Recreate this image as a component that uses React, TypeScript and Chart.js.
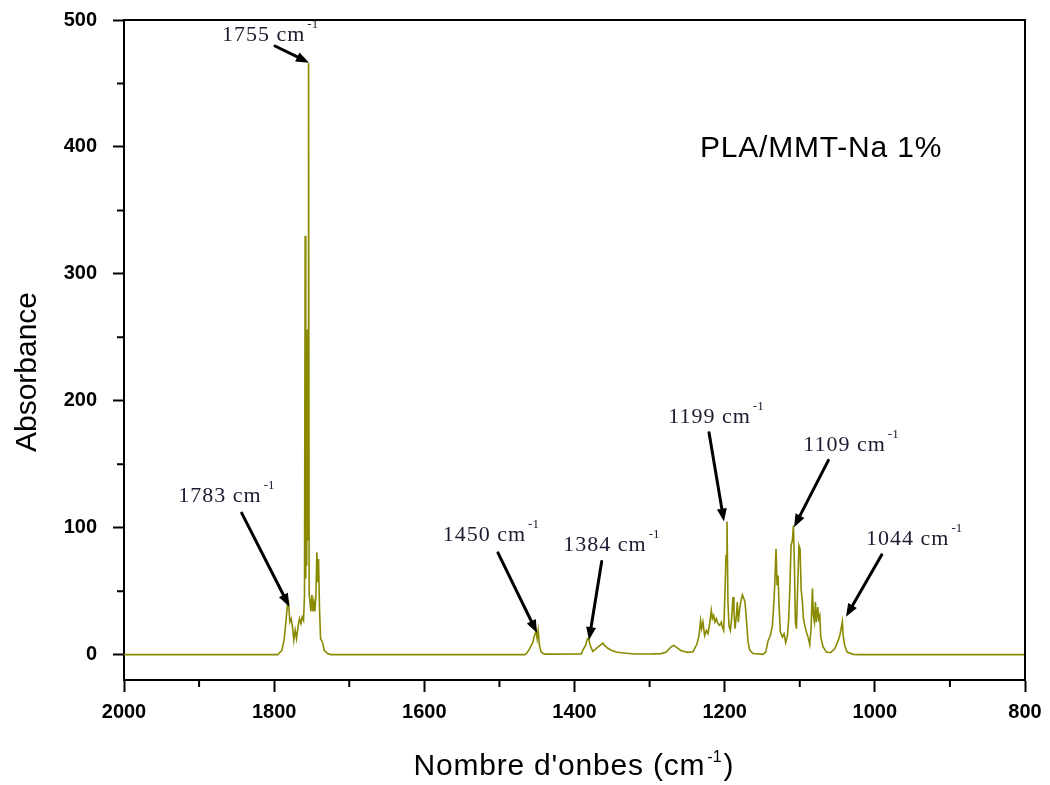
import React, { useEffect, useRef } from "react";
import { Chart, registerables } from "chart.js";

Chart.register(...registerables);

// Spectrum: wavenumber (cm-1) and absorbance
const wavenumbers = [
  2000, 1795, 1793.3, 1789.8, 1786.7, 1784.4, 1782.2, 1780.9, 1779.1, 1777.3,
  1775.6, 1773.8, 1772, 1770.2, 1768, 1766.2, 1764.4, 1762.7, 1760.9, 1759.6,
  1758.7, 1757.9, 1757.2, 1756.6, 1756.0, 1755.4, 1754.8, 1754.2, 1753.4, 1751.1,
  1749.8, 1748.4, 1747.1, 1745.8, 1744.4, 1743.1, 1742.2, 1740.9, 1739.6, 1738.2,
  1735.6, 1733.3, 1728.9, 1724.4,
  1466, 1464.4, 1460.9, 1455.6, 1453.3, 1451.1, 1449.8, 1448.4, 1446.7, 1444.4, 1440,
  1391, 1388.9, 1385.3, 1383.1, 1381.3, 1379.1, 1375.6, 1372.4, 1368.9, 1364.4,
  1362.2, 1360, 1355.6, 1351.1, 1344.4, 1337.8, 1320, 1295.6, 1284.4, 1277.8,
  1271.1, 1267.6, 1263.6, 1257.8, 1248.9, 1242.2,
  1236.9, 1234.2, 1232, 1230.7, 1228.9, 1226.7, 1224.4, 1222.2, 1220, 1217.8,
  1216.4, 1214.7, 1212.9, 1211.1, 1208.9, 1206.7, 1204.4, 1203.1, 1201.3, 1199.6,
  1198.2, 1196.9, 1195.6, 1194.2, 1192.4, 1190.7, 1188.9, 1187.6, 1186.2, 1184.4,
  1183.1, 1181.8, 1180, 1178.2, 1176.4, 1174.7, 1172.9, 1171.1, 1168.9, 1166.7,
  1162.2, 1148.9, 1145.3, 1142.2, 1139.1, 1136.4, 1134.7, 1133.3, 1131.6, 1130.2,
  1128.9, 1127.6, 1125.8, 1123.1, 1120.9, 1118.7, 1116.4, 1114.7, 1112.9, 1111.6,
  1109.8, 1108.4, 1107.1, 1105.8, 1104.4, 1102.7, 1101.1, 1099.6, 1098.2, 1096.4,
  1095.1, 1093.3, 1091.1, 1088.9, 1086.7, 1084.9, 1083.1, 1081.8, 1080.4, 1079.1,
  1077.8, 1076, 1074.7, 1073.3, 1072, 1068.9, 1064.4, 1059.1, 1053.3, 1048.9,
  1046.7, 1044.9, 1043.2, 1042.2, 1040, 1036.9, 1028.9, 1020, 800,
];

const absorbance = [
  0, 0, 1.3, 3.1, 12, 25.7, 40, 41.4, 25.7, 28.3,
  21.8, 11.4, 19.2, 12.6, 23, 28.3, 24.4, 29.6, 27, 46.6,
  330, 60, 256, 70, 256, 90, 256, 466, 48, 34,
  47, 34, 41.4, 34, 46.6, 80.6, 57, 75.4, 36, 12.6,
  9.4, 3.4, 0.8, 0,
  0, 0.5, 3.5, 9.4, 15, 18.3, 12.6, 19, 7.3, 2, 0.4,
  0.6, 3.5, 7.3, 12, 13, 7.3, 2.5, 4.1, 6, 8.1,
  9, 7.3, 5, 3.5, 2, 1.5, 0.5, 0.6, 0.8, 2.1,
  6.2, 7.3, 5.5, 3, 1.8, 2.3,
  8.3, 15, 26.9, 20.4, 25.6, 15, 19, 16.5, 24.4, 34.8,
  28.3, 30.9, 25.6, 28.3, 24.4, 23, 25.6, 21.7, 19, 49,
  78, 104.8, 41, 22.5, 19, 28.3, 45.3, 33.6, 20.4, 30.9,
  41.4, 25.6, 36, 42.7, 47, 44.5, 41.4, 28.3, 10.4, 3.6,
  0.8, 0.2, 2, 11, 15, 23, 38.8, 54.6, 83.3, 54.6,
  62.3, 38.8, 17.7, 13.8, 16.4, 9.4, 15, 28.3, 57.1, 86,
  89.9, 101.7, 70.4, 25.6, 20.4, 54.6, 86, 83.3, 52, 41.4,
  28.3, 23, 17.7, 13.8, 7.8, 20.4, 52, 30.9, 25.6, 41.4,
  25.6, 37.5, 28.3, 30.9, 13.8, 6, 2, 1.5, 4.6, 11,
  15, 20.4, 26, 15, 7, 2, 0.2, 0, 0,
];

const xTicks = [2000, 1800, 1600, 1400, 1200, 1000, 800];
const xMinorTicks = [1900, 1700, 1500, 1300, 1100, 900];
const yTicks = [0, 100, 200, 300, 400, 500];
const yMinorTicks = [50, 150, 250, 350, 450];

// Peak annotations (data coordinates)
const peakLabels = ["1755", "1783", "1450", "1384", "1199", "1109", "1044"];
const labelX = [1869.5, 1927.7, 1575.5, 1414.9, 1275.1, 1095.3, 1011.7];
const labelY = [483.4, 120.6, 89.9, 82, 182.4, 160.6, 86.5];
const arrowFromX = [1798.9, 1843.2, 1501.9, 1363.8, 1220.8, 1061.9, 990.8];
const arrowFromY = [479.5, 111.5, 80.2, 73.3, 174.8, 153, 78.6];
const arrowToX = [1753.6, 1779.8, 1449.9, 1380.7, 1200.9, 1107.6, 1038.4];
const arrowToY = [466.4, 37.8, 17.1, 11.5, 104.8, 100.4, 29.9];

const sampleName = "PLA/MMT-Na 1%";
const yTitle = "Absorbance";
const xTitle = "Nombre d'onbes (cm";

const decorPlugin = {
  id: "decor",
  afterDraw(chart: any) {
    const { ctx, chartArea: a, scales } = chart;
    const x = scales.x;
    const y = scales.y;
    ctx.save();
    // frame top/right
    ctx.strokeStyle = "#000";
    ctx.lineWidth = 2;
    ctx.beginPath();
    ctx.moveTo(a.left - 1, a.top);
    ctx.lineTo(a.right, a.top);
    ctx.lineTo(a.right, a.bottom + 1);
    ctx.stroke();
    // minor ticks
    ctx.beginPath();
    for (const v of xMinorTicks) {
      const px = x.getPixelForValue(v);
      ctx.moveTo(px, a.bottom);
      ctx.lineTo(px, a.bottom + 7);
    }
    for (const v of yMinorTicks) {
      const py = y.getPixelForValue(v);
      ctx.moveTo(a.left, py);
      ctx.lineTo(a.left - 7, py);
    }
    ctx.stroke();

    // arrows
    ctx.fillStyle = "#000";
    ctx.lineWidth = 3;
    ctx.lineCap = "round";
    for (let i = 0; i < peakLabels.length; i++) {
      const x0 = x.getPixelForValue(arrowFromX[i]);
      const y0 = y.getPixelForValue(arrowFromY[i]);
      const x1 = x.getPixelForValue(arrowToX[i]);
      const y1 = y.getPixelForValue(arrowToY[i]);
      const ang = Math.atan2(y1 - y0, x1 - x0);
      const hl = 13;
      const hw = 5;
      const bx = x1 - hl * Math.cos(ang);
      const by = y1 - hl * Math.sin(ang);
      ctx.beginPath();
      ctx.moveTo(x0, y0);
      ctx.lineTo(bx, by);
      ctx.stroke();
      ctx.beginPath();
      ctx.moveTo(x1, y1);
      ctx.lineTo(bx + hw * Math.sin(ang), by - hw * Math.cos(ang));
      ctx.lineTo(bx - hw * Math.sin(ang), by + hw * Math.cos(ang));
      ctx.closePath();
      ctx.fill();
    }

    // peak labels
    ctx.textAlign = "left";
    ctx.textBaseline = "alphabetic";
    for (let i = 0; i < peakLabels.length; i++) {
      const lx = x.getPixelForValue(labelX[i]);
      const ly = y.getPixelForValue(labelY[i]);
      ctx.fillStyle = "#1c1c30";
      ctx.font = '22px "Liberation Serif", "Times New Roman", serif';
      (ctx as any).letterSpacing = "1px";
      const main = peakLabels[i] + " cm";
      ctx.fillText(main, lx, ly);
      const w = ctx.measureText(main).width;
      ctx.font = '13px "Liberation Serif", "Times New Roman", serif';
      (ctx as any).letterSpacing = "0px";
      ctx.fillText("-1", lx + w + 2, ly - 13);
    }

    // sample name
    ctx.fillStyle = "#000";
    ctx.font = '30px "Liberation Sans", Arial, sans-serif';
    (ctx as any).letterSpacing = "0.8px";
    ctx.fillText(sampleName, 700, 157);

    // x title with superscript
    ctx.font = '30px "Liberation Sans", Arial, sans-serif';
    (ctx as any).letterSpacing = "0.8px";
    const wMain = ctx.measureText(xTitle).width;
    ctx.font = '16px "Liberation Sans", Arial, sans-serif';
    (ctx as any).letterSpacing = "0px";
    const wSup = ctx.measureText("-1").width;
    ctx.font = '30px "Liberation Sans", Arial, sans-serif';
    const wClose = ctx.measureText(")").width;
    const total = wMain + 2 + wSup + 2 + wClose;
    const cx = (a.left + a.right) / 2 - 1;
    let sx = cx - total / 2;
    ctx.font = '30px "Liberation Sans", Arial, sans-serif';
    (ctx as any).letterSpacing = "0.8px";
    ctx.fillText(xTitle, sx, 775);
    sx += wMain + 2;
    ctx.font = '16px "Liberation Sans", Arial, sans-serif';
    (ctx as any).letterSpacing = "0px";
    ctx.fillText("-1", sx, 762);
    sx += wSup + 2;
    ctx.font = '30px "Liberation Sans", Arial, sans-serif';
    ctx.fillText(")", sx, 775);

    // y title
    ctx.save();
    ctx.translate(28, 372);
    ctx.rotate(-Math.PI / 2);
    ctx.textAlign = "center";
    ctx.textBaseline = "middle";
    ctx.font = '30px "Liberation Sans", Arial, sans-serif';
    ctx.fillText(yTitle, 0, 0);
    ctx.restore();

    ctx.restore();
  },
};

export default function App() {
  const canvasRef = useRef<HTMLCanvasElement | null>(null);

  useEffect(() => {
    document.body.style.margin = "0";
    const canvas = canvasRef.current;
    if (!canvas) return;
    const points = wavenumbers.map((w, i) => ({ x: w, y: absorbance[i] }));
    const tickFont = { family: '"Liberation Sans", Arial, sans-serif', size: 20, weight: "bold" as const };
    const chart = new Chart(canvas, {
      type: "line",
      data: {
        datasets: [
          {
            data: points,
            borderColor: "#8a8a00",
            borderWidth: 1.6,
            pointRadius: 0,
            tension: 0,
            fill: false,
          },
        ],
      },
      options: {
        animation: false,
        responsive: false,
        events: [],
        layout: { padding: { top: 20, right: 25, left: 0, bottom: 0 } },
        plugins: {
          legend: { display: false },
          tooltip: { enabled: false },
          title: { display: false },
        },
        scales: {
          x: {
            type: "linear",
            reverse: true,
            min: 800,
            max: 2000,
            afterBuildTicks: (s: any) => {
              s.ticks = xTicks.map((v) => ({ value: v }));
            },
            afterFit: (s: any) => {
              s.height = 105;
              s.paddingLeft = 0;
              s.paddingRight = 0;
            },
            ticks: {
              color: "#000",
              font: tickFont,
              padding: 8,
              maxRotation: 0,
              autoSkip: false,
              callback: (v: any) => String(v),
            },
            grid: {
              display: true,
              drawOnChartArea: false,
              drawTicks: true,
              tickLength: 12,
              tickColor: "#000",
              tickWidth: 2,
              color: "rgba(0,0,0,0)",
            },
            border: { display: true, color: "#000", width: 2 },
          },
          y: {
            type: "linear",
            min: -20,
            max: 500,
            afterBuildTicks: (s: any) => {
              s.ticks = yTicks.map((v) => ({ value: v }));
            },
            afterFit: (s: any) => {
              s.width = 124;
              s.paddingTop = 0;
              s.paddingBottom = 0;
            },
            ticks: {
              color: "#000",
              font: tickFont,
              padding: 16,
              autoSkip: false,
              callback: (v: any) => String(v),
            },
            grid: {
              display: true,
              drawOnChartArea: false,
              drawTicks: true,
              tickLength: 11,
              tickColor: "#000",
              tickWidth: 2,
              color: "rgba(0,0,0,0)",
            },
            border: { display: true, color: "#000", width: 2 },
          },
        },
      },
      plugins: [decorPlugin],
    });
    return () => chart.destroy();
  }, []);

  return (
    <div style={{ width: 1050, height: 785, background: "#fff" }}>
      <canvas ref={canvasRef} width={1050} height={785} style={{ display: "block" }} />
    </div>
  );
}
